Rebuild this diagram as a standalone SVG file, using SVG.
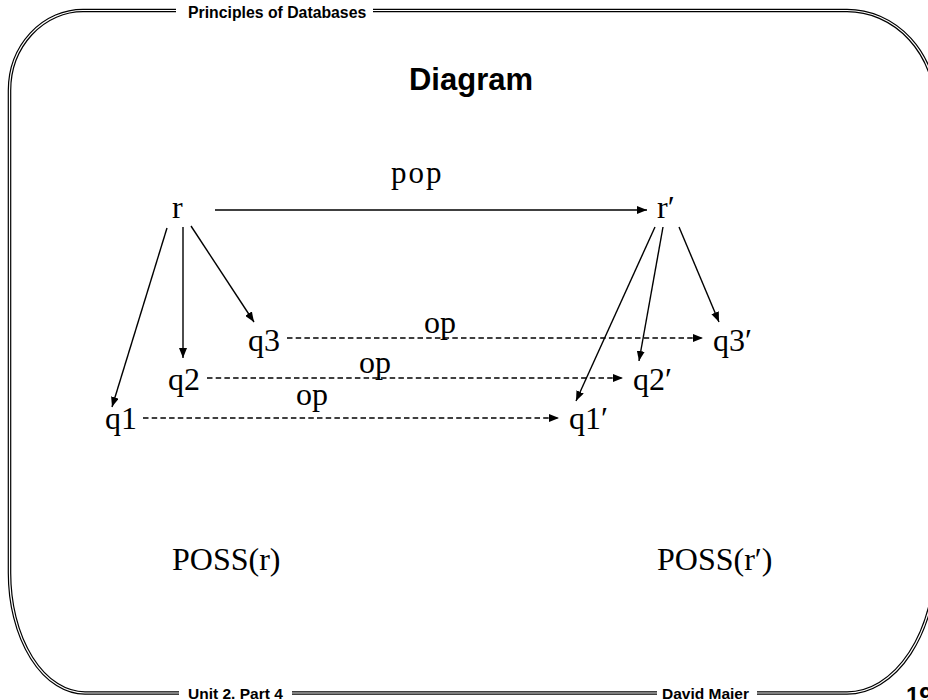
<svg xmlns="http://www.w3.org/2000/svg" width="928" height="700" viewBox="0 0 928 700">
<style>
.frame-o{fill:none;stroke:#000;stroke-width:3.6}
.frame-i{fill:none;stroke:#fff;stroke-width:1.2}
.hdr{font-family:"Liberation Sans",Arial,sans-serif;font-weight:bold;fill:#000}
.lbl{font-family:"Liberation Serif","Times New Roman",serif;font-size:32px;fill:#000}
.pop{font-family:"Liberation Serif","Times New Roman",serif;font-size:31px;letter-spacing:2px;fill:#000}
.edge{fill:none;stroke:#000;stroke-width:1.4;marker-end:url(#ah)}
.dash{fill:none;stroke:#000;stroke-width:1.3;stroke-dasharray:5.5 3.2;marker-end:url(#ah)}
</style>
<defs>
<marker id="ah" viewBox="0 0 10 8" refX="10" refY="4" markerWidth="10" markerHeight="8" markerUnits="userSpaceOnUse" orient="auto">
<path d="M0,0 L10,4 L0,8 z" fill="#000"/>
</marker>
</defs>
<rect width="928" height="700" fill="#fff"/>
<g id="frame">
<path class="frame-o" d="M83,10.5 H847 A89,97 0 0 1 936,107.5 V557 A89,136 0 0 1 847,693 H85 A75.5,120 0 0 1 9.5,573 V90.5 A73.5,80 0 0 1 83,10.5 Z"/>
<path class="frame-i" d="M83,10.5 H847 A89,97 0 0 1 936,107.5 V557 A89,136 0 0 1 847,693 H85 A75.5,120 0 0 1 9.5,573 V90.5 A73.5,80 0 0 1 83,10.5 Z"/>
<rect x="176" y="4" width="197" height="14" fill="#fff"/>
<rect x="179" y="686" width="113" height="14" fill="#fff"/>
<rect x="657" y="686" width="100" height="14" fill="#fff"/>
<text class="hdr" x="188" y="18" font-size="15.8">Principles of Databases</text>
<text class="hdr" x="188" y="698.5" font-size="15.5">Unit 2. Part 4</text>
<text class="hdr" x="662" y="698.5" font-size="15.5">David Maier</text>
<text class="hdr" x="906" y="704" font-size="24">19</text>
</g>
<text class="hdr" x="471" y="90" font-size="31" text-anchor="middle">Diagram</text>
<g id="connectors">
<line class="edge" x1="215" y1="210" x2="647" y2="210"/>
<line class="edge" x1="167" y1="228" x2="112" y2="407"/>
<line class="edge" x1="183" y1="227" x2="183" y2="358"/>
<line class="edge" x1="191" y1="226" x2="254" y2="322"/>
<line class="edge" x1="655" y1="227" x2="576" y2="401"/>
<line class="edge" x1="663" y1="227" x2="639" y2="361"/>
<line class="edge" x1="679" y1="227" x2="719" y2="322"/>
<line class="dash" x1="287" y1="338" x2="703" y2="338"/>
<line class="dash" x1="207" y1="378" x2="623" y2="378"/>
<line class="dash" x1="143" y1="418" x2="559" y2="418"/>
<text class="pop" x="391" y="183">pop</text>
<text class="lbl" x="424" y="333">op</text>
<text class="lbl" x="359" y="373">op</text>
<text class="lbl" x="296" y="405">op</text>
</g>
<g id="r"><text class="lbl" x="172" y="218">r</text></g>
<g id="r-prime"><text class="lbl" x="657" y="218">r′</text></g>
<g id="q1"><text class="lbl" x="105" y="429">q1</text></g>
<g id="q2"><text class="lbl" x="168" y="390">q2</text></g>
<g id="q3"><text class="lbl" x="248" y="351">q3</text></g>
<g id="q1-prime"><text class="lbl" x="569" y="429">q1′</text></g>
<g id="q2-prime"><text class="lbl" x="633" y="390">q2′</text></g>
<g id="q3-prime"><text class="lbl" x="713" y="351">q3′</text></g>
<g id="poss-r"><text class="lbl" x="172" y="570">POSS(r)</text></g>
<g id="poss-r-prime"><text class="lbl" x="657" y="570">POSS(r′)</text></g>
</svg>
